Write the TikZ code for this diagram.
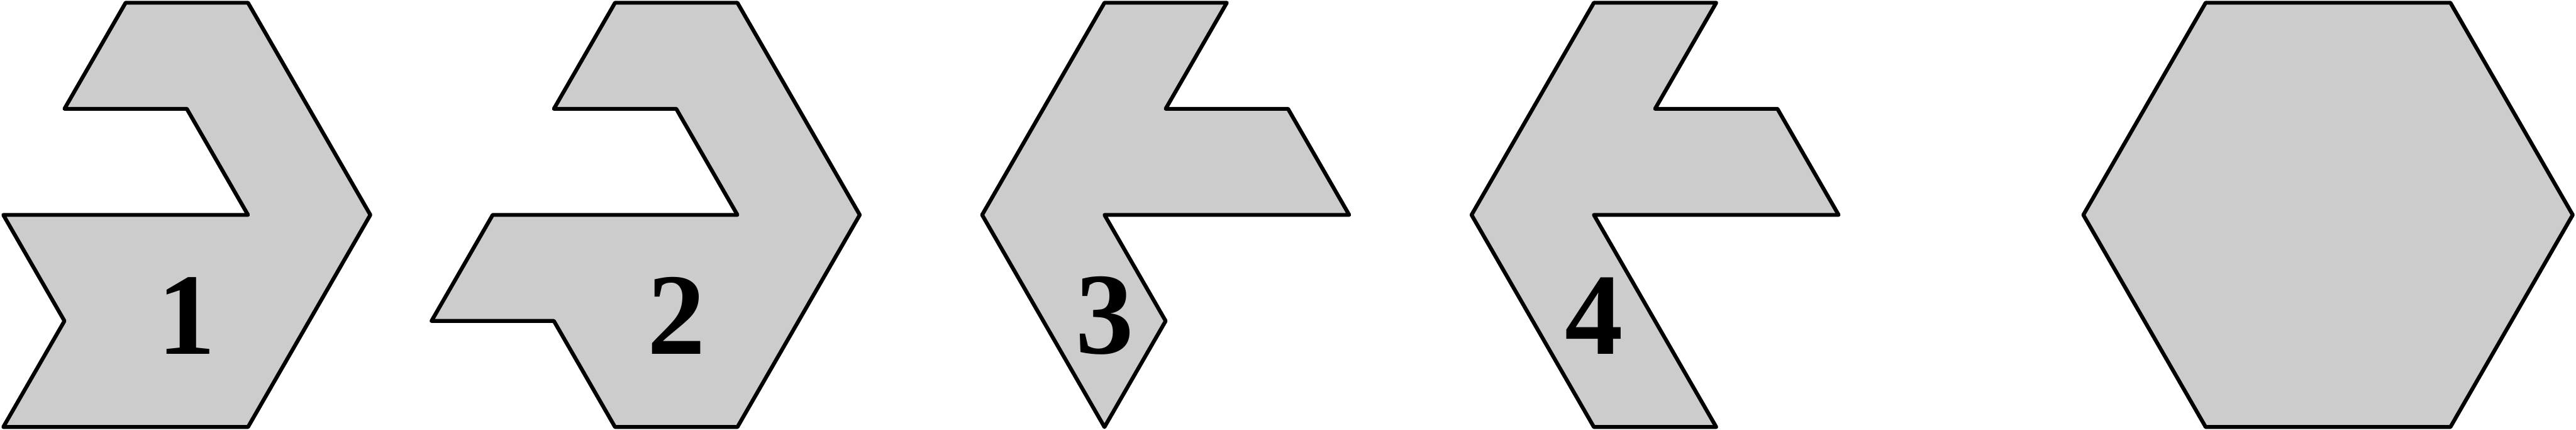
\documentclass[tikz,border=0pt]{standalone}
\usepackage{fontspec}
\setmainfont{Liberation Serif}
\usepackage{tikz}
\definecolor{tilegray}{HTML}{CCCCCC}

\begin{document}
\begin{tikzpicture}[x=2cm,y=1.7321cm,
  piece/.style={draw=black,fill=tilegray,line width=1.8pt,line join=round},
  num/.style={font=\bfseries\fontsize{54}{54}\selectfont,inner sep=0pt}]
\useasboundingbox (-0.0268,-0.0258) rectangle (21.0268,4.0258);
% piece 1
\draw[piece] (1,4)--(2,4)--(3,2)--(2,0)--(0,0)--(0.5,1)--(0,2)--(2,2)--(1.5,3)--(0.5,3)--cycle;
\node[num] (n1) at (1.5,1.05) {1};
% piece 2
\draw[piece,shift={(4,0)}] (1,4)--(2,4)--(3,2)--(2,0)--(1,0)--(0.5,1)--(-0.5,1)--(0,2)--(2,2)--(1.5,3)--(0.5,3)--cycle;
\node[num] (n2) at (5.5,1.05) {2};
% piece 3
\draw[piece,shift={(8,0)}] (1,4)--(2,4)--(1.5,3)--(2.5,3)--(3,2)--(1,2)--(1.5,1)--(1,0)--(0,2)--cycle;
\node[num] (n3) at (9,1.05) {3};
% piece 4
\draw[piece,shift={(12,0)}] (1,4)--(2,4)--(1.5,3)--(2.5,3)--(3,2)--(1,2)--(2,0)--(1,0)--(0,2)--cycle;
\node[num] (n4) at (13,1.05) {4};
% hexagon
\draw[piece,shift={(17,0)}] (1,4)--(3,4)--(4,2)--(3,0)--(1,0)--(0,2)--cycle;
\end{tikzpicture}
\end{document}
